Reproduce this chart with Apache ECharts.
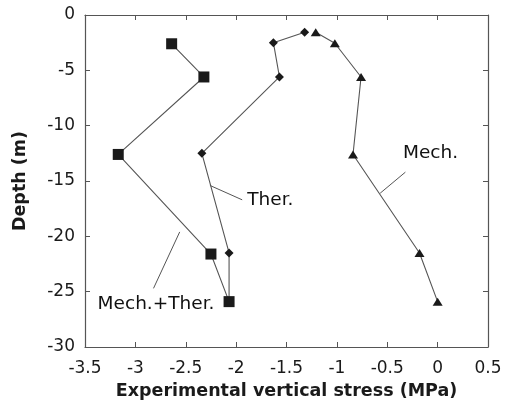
<!DOCTYPE html>
<html>
<head>
<meta charset="utf-8">
<script src="https://cdn.jsdelivr.net/npm/echarts@6/dist/echarts.min.js"></script>
<style>
  html, body { margin: 0; padding: 0; background: #fff; }
  #chart { width: 505px; height: 408px; }
</style>
</head>
<body>
<div id="chart"></div>
<script>
// stress (MPa), depth (m)
const mechTherStress = [-2.64, -2.32, -3.17, -2.25, -2.07]
const mechTherDepth = [-2.6, -5.6, -12.6, -21.6, -25.9]

const therStress = [-1.32, -1.63, -1.57, -2.34, -2.07, -2.07]
const therDepth = [-1.55, -2.5, -5.6, -12.5, -21.5, -25.9]

const mechStress = [-1.21, -1.02, -0.76, -0.84, -0.18, 0.0]
const mechDepth = [-1.55, -2.55, -5.6, -12.6, -21.5, -25.9]

// annotation labels and their leader lines (data coords)
const labelTexts = ['Mech.', 'Ther.', 'Mech.+Ther.']
const labelPos = [[-0.07, -12.5], [-1.66, -16.7], [-2.795, -26.1]]
const leaderFrom = [[-0.32, -14.2], [-1.94, -16.7], [-2.82, -24.7]]
const leaderTo = [[-0.57, -16.1], [-2.26, -15.4], [-2.56, -19.6]]

const font = 'DejaVu Sans, Verdana, sans-serif'
const zip = (xs, ys) => xs.map((x, i) => [x, ys[i]])

const lineStyle = { color: '#555', width: 1.1 }
const markerStyle = { color: '#1a1a1a' }

const chart = echarts.init(document.getElementById('chart'))
chart.setOption({
  backgroundColor: '#fff',
  animation: false,
  grid: { left: 85, right: 17, top: 15, bottom: 61 },
  xAxis: [
    {
      type: 'value', min: -3.5, max: 0.5, interval: 0.5,
      name: 'Experimental vertical stress (MPa)',
      nameLocation: 'middle', nameGap: 35,
      nameTextStyle: { fontFamily: font, fontSize: 17.5, fontWeight: 'bold', color: '#1a1a1a' },
      axisLine: { onZero: false, lineStyle: { color: '#555', width: 1.2 } },
      axisTick: { inside: true, length: 5, lineStyle: { color: '#555' } },
      axisLabel: { fontFamily: font, fontSize: 17, color: '#1a1a1a', margin: 13,
        formatter: v => String(v) },
      splitLine: { show: false }
    },
    {
      type: 'value', min: -3.5, max: 0.5, interval: 0.5, position: 'top',
      axisLine: { onZero: false, lineStyle: { color: '#555', width: 1.2 } },
      axisTick: { inside: true, length: 5, lineStyle: { color: '#555' } },
      axisLabel: { show: false },
      splitLine: { show: false }
    }
  ],
  yAxis: [
    {
      type: 'value', min: -30, max: 0, interval: 5,
      name: 'Depth (m)',
      nameLocation: 'middle', nameGap: 56,
      nameTextStyle: { fontFamily: font, fontSize: 17.5, fontWeight: 'bold', color: '#1a1a1a' },
      axisLine: { onZero: false, lineStyle: { color: '#555', width: 1.2 } },
      axisTick: { inside: true, length: 5, lineStyle: { color: '#555' } },
      axisLabel: { fontFamily: font, fontSize: 17, color: '#1a1a1a', margin: 10 },
      splitLine: { show: false }
    },
    {
      type: 'value', min: -30, max: 0, interval: 5, position: 'right',
      axisLine: { onZero: false, lineStyle: { color: '#555', width: 1.2 } },
      axisTick: { inside: true, length: 5, lineStyle: { color: '#555' } },
      axisLabel: { show: false },
      splitLine: { show: false }
    }
  ],
  series: [
    {
      name: 'Ther.', type: 'line', data: zip(therStress, therDepth),
      symbol: 'diamond', symbolSize: 9,
      lineStyle, itemStyle: markerStyle, z: 2
    },
    {
      name: 'Mech.', type: 'line', data: zip(mechStress, mechDepth),
      symbol: 'triangle', symbolSize: [10, 8],
      lineStyle, itemStyle: markerStyle, z: 2
    },
    {
      name: 'Mech.+Ther.', type: 'line', data: zip(mechTherStress, mechTherDepth),
      symbol: 'rect', symbolSize: 11,
      lineStyle, itemStyle: markerStyle, z: 3
    },
    {
      // text annotations
      type: 'scatter', symbolSize: 0, silent: true,
      itemStyle: { opacity: 1 },
      data: labelPos.map((p, i) => ({ value: p, name: labelTexts[i] })),
      label: {
        show: true, position: 'inside', formatter: p => p.name,
        fontFamily: font, fontSize: 18.5, color: '#111', opacity: 1
      }
    },
    {
      // leader lines
      type: 'line', data: [], silent: true,
      markLine: {
        silent: true, symbol: 'none', label: { show: false },
        lineStyle: { color: '#555', width: 1, type: 'solid' },
        data: leaderFrom.map((a, i) => [{ coord: a }, { coord: leaderTo[i] }])
      }
    }
  ]
})
</script>
</body>
</html>
